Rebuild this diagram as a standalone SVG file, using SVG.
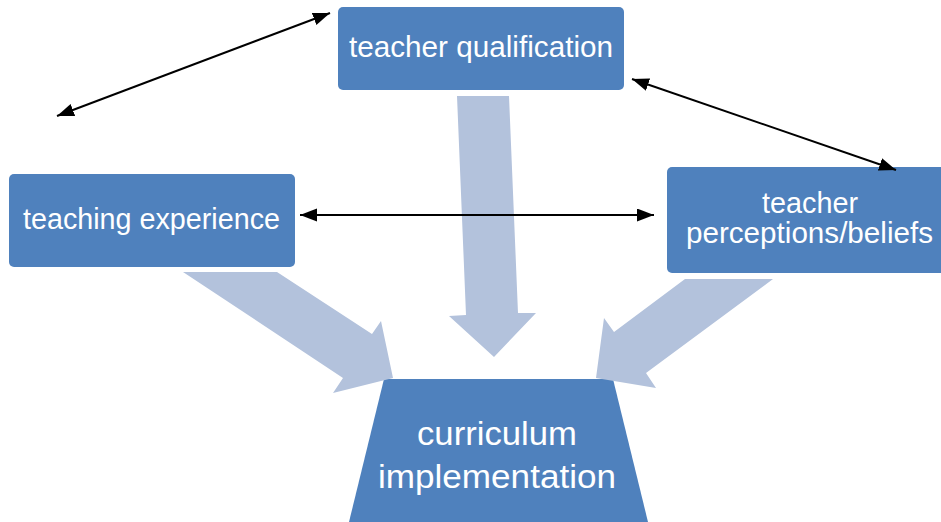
<svg xmlns="http://www.w3.org/2000/svg" width="941" height="522" viewBox="0 0 941 522">
<style>
.box{fill:#4F81BD;}
.big{fill:#B3C2DC;}
.lbl{fill:#FFFFFF;font-family:"Liberation Sans",Arial,sans-serif;font-size:29px;text-anchor:middle;}
.lbl2{fill:#FFFFFF;font-family:"Liberation Sans",Arial,sans-serif;font-size:33px;text-anchor:middle;}
.con{stroke:#000000;stroke-width:2;fill:none;marker-start:url(#ah);marker-end:url(#ah);}
</style>
<defs>
<marker id="ah" markerUnits="userSpaceOnUse" markerWidth="20" markerHeight="14" refX="17" refY="6.5" orient="auto-start-reverse">
<path d="M0,0 L17,6.5 L0,13 z" fill="#000000"/>
</marker>
</defs>
<g id="node-curriculum">
<polygon class="box" points="384,379 613,379 648,522 349,522"/>
<text class="lbl2" x="497" y="445" textLength="160" lengthAdjust="spacingAndGlyphs">curriculum</text>
<text class="lbl2" x="497" y="488" textLength="238" lengthAdjust="spacingAndGlyphs">implementation</text>
</g>
<g id="big-arrows">
<polygon class="big" points="183,272 277,272 372,334 381,321 393,378 333,393 343,378"/>
<polygon class="big" points="457,96 509,96 518,313 536,313 494,357 449,316 466,315"/>
<polygon class="big" points="685,279 773,279 646,373 656,388 596,378 604,318 614,332"/>
</g>
<g id="node-qualification">
<rect class="box" x="338" y="7" width="286" height="83" rx="5"/>
<text class="lbl" x="481" y="57" textLength="264" lengthAdjust="spacingAndGlyphs">teacher qualification</text>
</g>
<g id="node-experience">
<rect class="box" x="9" y="174" width="286" height="93" rx="5"/>
<text class="lbl" x="151.5" y="229" textLength="257" lengthAdjust="spacingAndGlyphs">teaching experience</text>
</g>
<g id="node-perceptions">
<rect class="box" x="667" y="167" width="290" height="106" rx="5"/>
<text class="lbl" x="810" y="213" textLength="96" lengthAdjust="spacingAndGlyphs">teacher</text>
<text class="lbl" x="809.5" y="243" textLength="247" lengthAdjust="spacingAndGlyphs">perceptions/beliefs</text>
</g>
<g id="connectors">
<line class="con" x1="57" y1="116" x2="330" y2="13"/>
<line class="con" x1="300" y1="215" x2="654" y2="215"/>
<line class="con" x1="632" y1="79" x2="896" y2="170"/>
</g>
</svg>
